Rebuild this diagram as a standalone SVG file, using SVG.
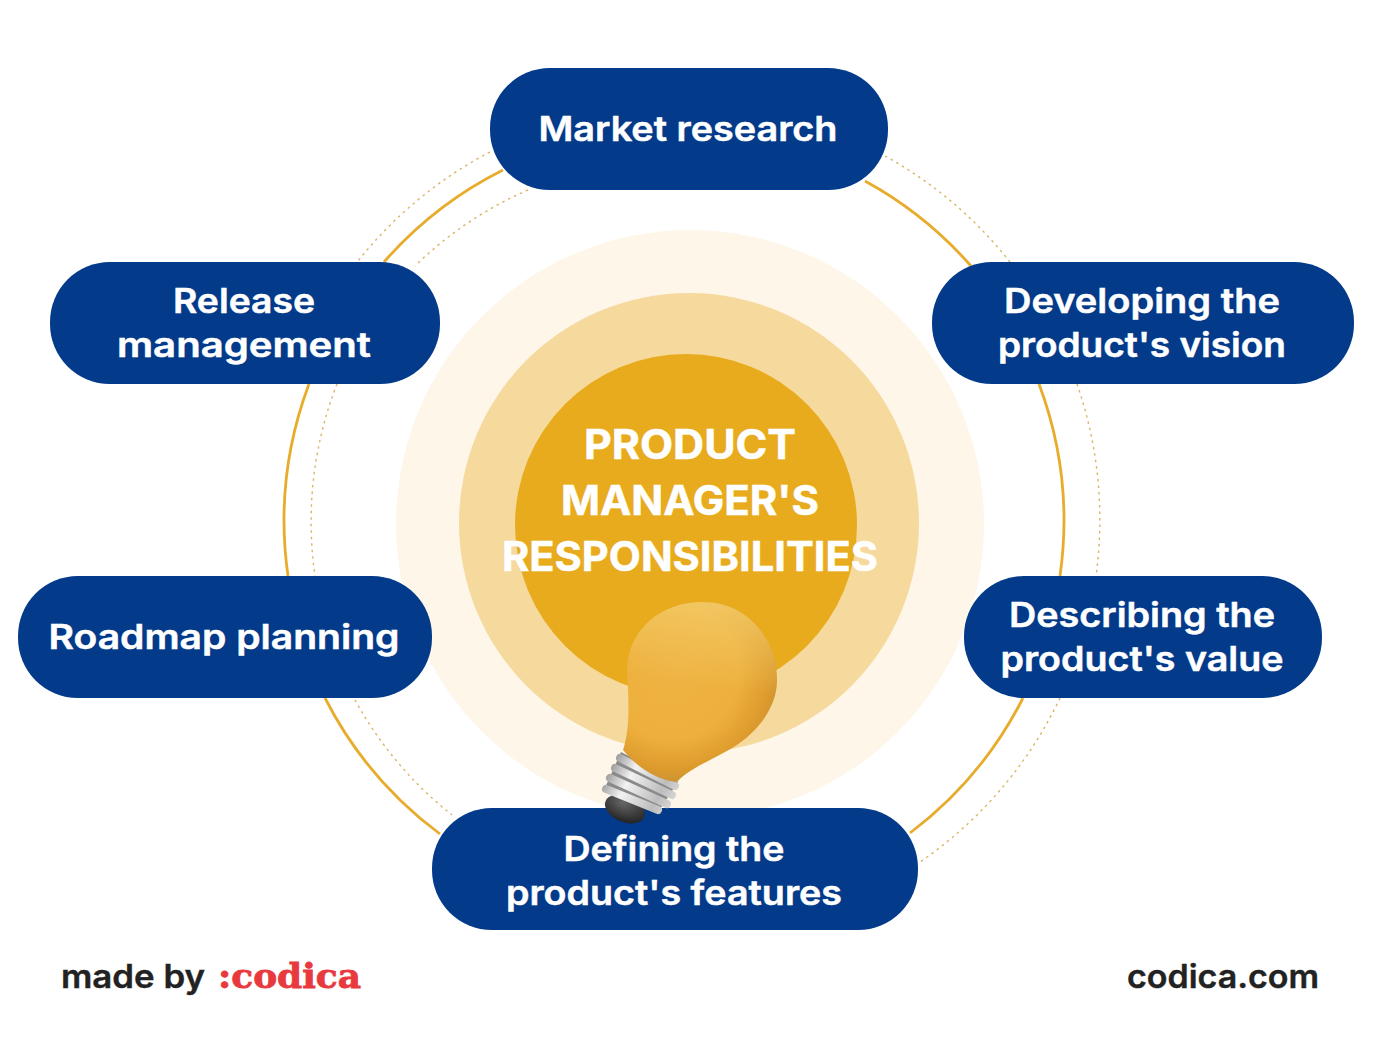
<svg xmlns="http://www.w3.org/2000/svg" width="1380" height="1046" viewBox="0 0 1380 1046">
<style>
.box{fill:#033a8a}
.lbl{font-family:"Inter","Liberation Sans",sans-serif;font-weight:600;font-size:34px;fill:#fff;stroke:#fff;stroke-width:.5;text-anchor:middle}
.ttl{font-family:"Inter","Liberation Sans",sans-serif;font-weight:700;font-size:41px;fill:#fff;stroke:#fff;stroke-width:.5;text-anchor:middle}
.foot{font-family:"Inter","Liberation Sans",sans-serif;font-weight:600;font-size:32px;fill:#222;stroke:#222;stroke-width:.4}
.solid{fill:none;stroke:#e8ac2c;stroke-width:2.8}
.dot{fill:none;stroke:#d9b566;stroke-width:1.4;stroke-dasharray:2.5 4}
.ridge{fill:none;stroke:url(#metal);stroke-width:8;stroke-linecap:round}
</style>
<defs>
<radialGradient id="bulbG" gradientUnits="userSpaceOnUse" cx="672" cy="672" r="112">
<stop offset="0" stop-color="#efb343"/><stop offset=".6" stop-color="#eeb03c"/><stop offset=".88" stop-color="#dc9a2c"/><stop offset="1" stop-color="#c99238"/>
</radialGradient>
<linearGradient id="sheen" gradientUnits="userSpaceOnUse" x1="680" y1="600" x2="668" y2="680">
<stop offset="0" stop-color="#f3cc6a" stop-opacity=".8"/><stop offset="1" stop-color="#f3cc6a" stop-opacity="0"/>
</linearGradient>
<linearGradient id="metal" gradientUnits="userSpaceOnUse" x1="605" y1="770" x2="680" y2="810">
<stop offset="0" stop-color="#8f8f8f"/><stop offset=".3" stop-color="#f2f2f2"/><stop offset=".7" stop-color="#bdbdbd"/><stop offset="1" stop-color="#e6e6e6"/>
</linearGradient>
<radialGradient id="capG" cx=".4" cy=".3" r=".8"><stop offset="0" stop-color="#666"/><stop offset="1" stop-color="#1c1c1e"/></radialGradient>
<path id="glass" d="M623 750 C630 730 629 700 627 670 C628 630 660 602 703 602 C748 602 778 640 777 682 C776 712 752 738 725 752 C705 763 688 770 677 782 C655 780 635 765 623 750 Z"/>
</defs>
<rect width="1380" height="1046" fill="#fff"/>
<g id="connectors">
<path class="solid" d="M503 170 A390 390 0 0 0 384 262"/>
<path class="solid" d="M865 181 A390 390 0 0 1 971 266"/>
<path class="solid" d="M1039 384 A390 390 0 0 1 1060 576"/>
<path class="solid" d="M1023 698 A390 390 0 0 1 910 833"/>
<path class="solid" d="M309 384 A390 390 0 0 0 288 576"/>
<path class="solid" d="M325 698 A390 390 0 0 0 440 834"/>
<path class="dot" d="M490 152 A414 414 0 0 0 358 261"/>
<path class="dot" d="M885 156 A414 414 0 0 1 1010 262"/>
<path class="dot" d="M1077 384 A414 414 0 0 1 1096 576"/>
<path class="dot" d="M1060 698 A414 414 0 0 1 920 862"/>
<path class="dot" d="M528 190 A375 375 0 0 0 415 266"/>
<path class="dot" d="M337 384 A379 379 0 0 0 315 576"/>
<path class="dot" d="M355 700 A379 379 0 0 0 452 815"/>
</g>
<g id="center">
<circle cx="690" cy="524" r="294" fill="#fdf6e9"/>
<circle cx="689" cy="523" r="230" fill="#f6d99c"/>
<circle cx="686" cy="525" r="171" fill="#e8ab1e"/>
<text class="ttl" x="690" y="459" textLength="212" lengthAdjust="spacingAndGlyphs">PRODUCT</text>
<text class="ttl" x="690" y="515" textLength="258" lengthAdjust="spacingAndGlyphs">MANAGER'S</text>
<text class="ttl" x="690" y="571" textLength="376" lengthAdjust="spacingAndGlyphs">RESPONSIBILITIES</text>
</g>
<g id="node-market"><rect class="box" x="490" y="68" width="398" height="122" rx="60"/><text class="lbl" x="688" y="141" textLength="299" lengthAdjust="spacingAndGlyphs">Market research</text></g>
<g id="node-release"><rect class="box" x="50" y="262" width="390" height="122" rx="60"/><text class="lbl" x="244" y="313" textLength="142" lengthAdjust="spacingAndGlyphs">Release</text><text class="lbl" x="244" y="357" textLength="254" lengthAdjust="spacingAndGlyphs">management</text></g>
<g id="node-vision"><rect class="box" x="932" y="262" width="422" height="122" rx="60"/><text class="lbl" x="1142" y="313" textLength="276" lengthAdjust="spacingAndGlyphs">Developing the</text><text class="lbl" x="1142" y="357" textLength="288" lengthAdjust="spacingAndGlyphs">product's vision</text></g>
<g id="node-roadmap"><rect class="box" x="18" y="576" width="414" height="122" rx="60"/><text class="lbl" x="224" y="649" textLength="351" lengthAdjust="spacingAndGlyphs">Roadmap planning</text></g>
<g id="node-value"><rect class="box" x="964" y="576" width="358" height="122" rx="60"/><text class="lbl" x="1142" y="627" textLength="266" lengthAdjust="spacingAndGlyphs">Describing the</text><text class="lbl" x="1142" y="671" textLength="283" lengthAdjust="spacingAndGlyphs">product's value</text></g>
<g id="node-features"><rect class="box" x="432" y="808" width="486" height="122" rx="60"/><text class="lbl" x="674" y="861" textLength="221" lengthAdjust="spacingAndGlyphs">Defining the</text><text class="lbl" x="674" y="905" textLength="336" lengthAdjust="spacingAndGlyphs">product's features</text></g>
<g id="bulb">
<ellipse cx="625" cy="809" rx="21" ry="13" transform="rotate(22 625 809)" fill="url(#capG)"/>
<path d="M621 752 L678 782 L658 812 L604 790 Z" fill="#8a8a8a"/>
<path class="ridge" d="M620 758 L675 786"/>
<path class="ridge" d="M615 768 L672 795"/>
<path class="ridge" d="M610 778 L667 804"/>
<path class="ridge" d="M606 789 L658 810"/>
<use href="#glass" fill="url(#bulbG)"/>
<use href="#glass" fill="url(#sheen)"/>
</g>
<g id="footer">
<text class="foot" x="61" y="988" textLength="144" lengthAdjust="spacingAndGlyphs">made by</text>
<text x="218" y="988" font-family="'DejaVu Serif','Liberation Serif',serif" font-weight="700" font-size="33" fill="#e8393f" stroke="#e8393f" stroke-width=".8" textLength="143" lengthAdjust="spacingAndGlyphs">:codica</text>
<text class="foot" x="1127" y="988" textLength="192" lengthAdjust="spacingAndGlyphs">codica.com</text>
</g>
</svg>
